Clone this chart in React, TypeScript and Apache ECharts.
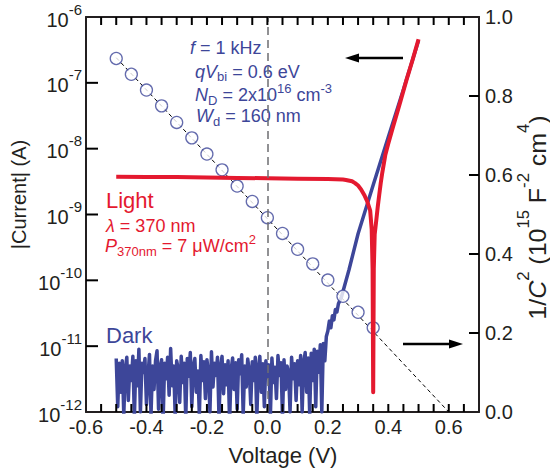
import React, { useEffect, useRef } from 'react';
import * as echarts from 'echarts';

const FONT = '"Liberation Sans", Arial, Helvetica, sans-serif';
const NARROW = '"Liberation Sans Narrow", "Liberation Sans", Arial, sans-serif';
const BLUE = '#3d4699';
const RED = '#e4192f';
const INK = '#231f20';

// axis tick positions and labels
const xTickLabels = ['-0.6', '-0.4', '-0.2', '0.0', '0.2', '0.4', '0.6'];
const xTickValues = [-0.55, -0.5, -0.45, -0.4, -0.35, -0.3, -0.25, -0.2, -0.15, -0.1, -0.05, 0.0, 0.05, 0.1, 0.15, 0.2, 0.25, 0.3, 0.35, 0.4, 0.45, 0.5, 0.55, 0.6, 0.65];
const yLogTickValues = [1e-11, 1e-10, 1e-9, 1e-8, 1e-7];
const yRightTickValues = [0.2, 0.4, 0.6, 0.8];

// 1/C^2 (right axis) vs voltage
const cvVoltage = [-0.5, -0.45, -0.4, -0.35, -0.3, -0.25, -0.2, -0.15, -0.1, -0.05, 0.0, 0.05, 0.1, 0.15, 0.2, 0.25, 0.3, 0.35];
const invC2 = [0.895, 0.855, 0.815, 0.775, 0.733, 0.694, 0.653, 0.613, 0.572, 0.533, 0.492, 0.452, 0.412, 0.375, 0.334, 0.293, 0.2525, 0.213];

// Mott-Schottky fit line
const fitVoltage = [-0.5, 0.6];
const fitInvC2 = [0.897, 0.0];

// Light current
const lightVoltage = [-0.5, -0.4, -0.3, -0.2, -0.1, 0.0, 0.1, 0.2, 0.25, 0.26, 0.28, 0.29, 0.3, 0.31, 0.32, 0.33, 0.34, 0.345, 0.348, 0.35, 0.352, 0.355, 0.36, 0.365, 0.37, 0.375, 0.38, 0.39, 0.4, 0.415, 0.43, 0.44, 0.46, 0.48, 0.5];
const lightCurrent = [3.75e-9, 3.72e-9, 3.7e-9, 3.65e-9, 3.6e-9, 3.55e-9, 3.5e-9, 3.45e-9, 3.4e-9, 3.35e-9, 3.2e-9, 3.0e-9, 2.75e-9, 2.4e-9, 2.0e-9, 1.6e-9, 1.15e-9, 6e-10, 1.5e-10, 2e-12, 1.5e-10, 5e-10, 8e-10, 1.3e-9, 2.0e-9, 3.0e-9, 4.3e-9, 8e-9, 1.2e-8, 2.1e-8, 3.6e-8, 5.2e-8, 1.1e-7, 2.2e-7, 4.6e-7];

// Dark current: noisy part of the sweep (pA), sweep starts at -0.5 V in 5 mV steps
const darkSweepStart = -0.5;
const darkSweepStep = 0.005;
const darkNoisePA = [
  6.5, 1.2, 5.5, 2.0, 6.0, 0.9, 4.5, 6.8, 1.5, 5.0, 3.0, 7.0, 0.8, 6.0, 2.5, 9.0, 1.0, 5.5, 4.0, 6.5,
  1.3, 3.5, 7.5, 0.9, 5.0, 2.2, 6.0, 8.5, 1.1, 4.8, 6.2, 0.7, 5.5, 3.2, 6.8, 1.8, 9.2, 2.5, 5.0, 0.9,
  6.0, 4.5, 1.4, 7.0, 2.8, 5.5, 0.8, 6.5, 3.5, 8.0, 1.2, 5.0, 6.5, 2.0, 4.2, 0.9, 7.2, 3.0, 5.8, 1.6,
  6.2, 4.0, 1.0, 8.2, 2.4, 5.5, 3.6, 6.8, 0.8, 4.8, 7.0, 1.9, 5.2, 2.6, 6.0, 0.7, 4.4, 6.6, 2.2, 5.6,
  1.1, 6.2, 3.8, 7.4, 0.9, 5.0, 2.4, 6.4, 4.2, 1.3, 5.8, 3.0, 6.8, 0.8, 4.6, 7.0, 2.0, 5.4, 1.2, 6.0,
  3.4, 5.2, 0.9, 6.6, 2.8, 4.8, 1.6, 7.2, 3.6, 5.6, 0.8, 6.2, 2.2, 5.0, 4.0, 1.0, 6.8, 3.2, 5.4, 1.5,
  6.0, 2.6, 7.2, 1.0, 5.6, 8.0, 2.0, 6.6, 0.9, 7.8, 3.0, 9.0, 1.2, 8.4, 4.0, 10.5, 1.0, 11.0, 6.0, 14.0,
];
// Dark current: rising part
const darkRiseVoltage = [0.2, 0.205, 0.21, 0.215, 0.22, 0.225, 0.23, 0.235, 0.245, 0.27, 0.3, 0.35, 0.4, 0.45, 0.5];
const darkRiseCurrent = [1.7e-11, 2.4e-11, 1.9e-11, 2.9e-11, 2.5e-11, 3.6e-11, 3.3e-11, 4.4e-11, 5.6e-11, 1.45e-10, 5.1e-10, 2.8e-9, 1.5e-8, 7.9e-8, 4.4e-7];

const pair = (xs: number[], ys: number[]) => xs.map((x, i) => [x, ys[i]]);

const GRID = { left: 86, right: 71, top: 17, bottom: 62 };

function baseGraphics(): any[] {
  const base = { fontFamily: FONT };
  const mkRich = (color: string, size: number, sub: number, subPad: number, supPad: number) => ({
    n: { ...base, fontSize: size, fill: color },
    i: { ...base, fontSize: size, fill: color, fontStyle: 'italic' },
    sub: { ...base, fontSize: sub, fill: color, padding: [subPad, 0, 0, 0] },
    sup: { ...base, fontSize: sub, fill: color, padding: [0, 0, supPad, 0] },
    L: { ...base, fontSize: 22, fill: color },
  });
  const blueRich = mkRich(BLUE, 18, 13, 10, 14);
  const redRich = mkRich(RED, 18, 13, 11, 14);

  const txt = (x: number, y: number, text: string, rich: any) => ({
    type: 'text',
    x,
    y,
    silent: true,
    style: { text, rich, align: 'left', verticalAlign: 'middle', fontFamily: FONT, fontSize: 18 },
  });

  const axisRich = {
    n: { fontFamily: FONT, fontSize: 24, fill: INK },
    i: { fontFamily: FONT, fontSize: 24, fill: INK, fontStyle: 'italic' },
    sup: { fontFamily: FONT, fontSize: 16, fill: INK, padding: [0, 0, 28, 0] },
  };
  const arrowColor = '#000';

  return [
    txt(190, 48, '{i|f}{n| = 1 kHz}', blueRich),
    txt(195, 71.5, '{i|qV}{sub|bi}{n| = 0.6 eV}', blueRich),
    txt(195, 95, '{i|N}{sub|D}{n| = 2x10}{sup|16}{n| cm}{sup|-3}', blueRich),
    txt(196, 116, '{i|W}{sub|d}{n| = 160 nm}', blueRich),
    txt(106, 200, '{L|Light}', redRich),
    txt(106, 226, '{i|λ}{n| = 370 nm}', redRich),
    txt(105, 246, '{i|P}{sub|370nm}{n| = 7 μW/cm}{sup|2}', redRich),
    txt(106, 335, '{L|Dark}', blueRich),
    {
      type: 'text',
      x: 18.5,
      y: 194.5,
      rotation: Math.PI / 2,
      silent: true,
      style: { text: '|Current| (A)', fontFamily: NARROW, fontSize: 20, fill: INK, align: 'center', verticalAlign: 'middle' },
    },
    {
      type: 'text',
      x: 537.5,
      y: 217.5,
      rotation: Math.PI / 2,
      scaleX: 1.04,
      silent: true,
      style: {
        text: '{n|1/}{i|C}{sup|2}{n| (10}{sup|15}{n| F}{sup|-2}{n| cm}{sup|4}{n|)}',
        rich: axisRich,
        fontFamily: FONT,
        fontSize: 24,
        fill: INK,
        align: 'center',
        verticalAlign: 'middle',
      },
    },
    {
      type: 'text',
      x: 283,
      y: 455.5,
      silent: true,
      style: { text: 'Voltage (V)', fontFamily: FONT, fontSize: 22, fill: INK, align: 'center', verticalAlign: 'middle' },
    },
    { type: 'line', silent: true, shape: { x1: 403, y1: 58, x2: 356, y2: 58 }, style: { stroke: arrowColor, lineWidth: 2.5 } },
    { type: 'polygon', silent: true, shape: { points: [[345, 58], [359, 53.5], [359, 62.5]] }, style: { fill: arrowColor } },
    { type: 'line', silent: true, shape: { x1: 403, y1: 344, x2: 452, y2: 344 }, style: { stroke: arrowColor, lineWidth: 2.5 } },
    { type: 'polygon', silent: true, shape: { points: [[463, 344], [449, 339.5], [449, 348.5]] }, style: { fill: arrowColor } },
  ];
}

function buildOption(ticks: any[]) {
  const darkData: number[][] = darkNoisePA.map((v, i) => [
    Math.round((darkSweepStart + i * darkSweepStep) * 1000) / 1000,
    v * 1e-12,
  ]);
  pair(darkRiseVoltage, darkRiseCurrent).forEach((p) => darkData.push(p));

  const xLabel = (v: number) => {
    const k = Math.round(v * 5);
    if (Math.abs(v * 5 - k) > 1e-6) return '';
    const s = (k / 5).toFixed(1);
    return xTickLabels.indexOf(s) >= 0 ? s : '';
  };

  const xCommon: any = {
    type: 'value',
    min: -0.6,
    max: 0.7,
    interval: 0.1,
    axisLine: { show: true, onZero: false, lineStyle: { color: INK, width: 2 } },
    axisTick: { show: false },
    splitLine: { show: false },
  };

  return {
    animation: false,
    backgroundColor: '#fff',
    grid: { ...GRID },
    xAxis: [
      {
        ...xCommon,
        position: 'bottom',
        axisLabel: {
          show: true,
          margin: 5,
          fontFamily: FONT,
          fontSize: 20,
          color: INK,
          formatter: xLabel,
        },
      },
      { ...xCommon, position: 'top', axisLabel: { show: false } },
    ],
    yAxis: [
      {
        type: 'log',
        logBase: 10,
        min: 1e-12,
        max: 1e-6,
        position: 'left',
        axisLine: { show: true, onZero: false, lineStyle: { color: INK, width: 2 } },
        axisTick: { show: false },
        splitLine: { show: false },
        axisLabel: {
          margin: 4,
          formatter: (v: number) => `{b|10}{s|${Math.round(Math.log10(v))}}`,
          rich: {
            b: { fontFamily: FONT, fontSize: 20, color: INK, padding: [5, 0, 0, 0] },
            s: { fontFamily: FONT, fontSize: 15, color: INK, padding: [0, 0, 16, 0] },
          },
        },
      },
      {
        type: 'value',
        min: 0,
        max: 1,
        interval: 0.2,
        position: 'right',
        axisLine: { show: true, onZero: false, lineStyle: { color: INK, width: 2 } },
        axisTick: { show: false },
        splitLine: { show: false },
        axisLabel: {
          margin: 6,
          fontFamily: FONT,
          fontSize: 20,
          color: INK,
          formatter: (v: number) => v.toFixed(1),
        },
      },
    ],
    series: [
      {
        name: 'fit',
        type: 'line',
        xAxisIndex: 0,
        yAxisIndex: 1,
        data: pair(fitVoltage, fitInvC2),
        showSymbol: false,
        symbol: 'none',
        lineStyle: { color: '#000', width: 1, type: [4, 3] },
        z: 1,
        silent: true,
        markLine: {
          silent: true,
          symbol: ['none', 'none'],
          label: { show: false },
          lineStyle: { color: '#6d6e71', width: 1.5, type: [8, 5] },
          data: [{ xAxis: 0 }],
        },
      },
      {
        name: 'Dark',
        type: 'line',
        xAxisIndex: 0,
        yAxisIndex: 0,
        data: darkData,
        showSymbol: false,
        symbol: 'none',
        lineStyle: { color: BLUE, width: 3.5, join: 'round' },
        z: 2,
      },
      {
        name: '1/C2',
        type: 'scatter',
        xAxisIndex: 0,
        yAxisIndex: 1,
        data: pair(cvVoltage, invC2),
        symbol: 'circle',
        symbolSize: 12,
        itemStyle: { color: '#fff', borderColor: BLUE, borderWidth: 1.3 },
        z: 3,
      },
      {
        name: 'Light',
        type: 'line',
        xAxisIndex: 0,
        yAxisIndex: 0,
        data: pair(lightVoltage, lightCurrent),
        showSymbol: false,
        symbol: 'none',
        lineStyle: { color: RED, width: 4, join: 'round' },
        z: 4,
      },
    ],
    graphic: [...baseGraphics(), ...ticks],
  };
}

function tickGraphics(chart: any): any[] {
  const out: any[] = [];
  const left = GRID.left;
  const right = 550 - GRID.right;
  const top = GRID.top;
  const bottom = 474 - GRID.bottom;
  const seg = (x1: number, y1: number, x2: number, y2: number, w: number) => ({
    type: 'line',
    silent: true,
    z: 10,
    shape: { x1, y1, x2, y2 },
    style: { stroke: '#000', lineWidth: w },
  });
  xTickValues.forEach((v) => {
    const p = chart.convertToPixel({ xAxisIndex: 0, yAxisIndex: 0 }, [v, 1e-9]);
    if (!p || !isFinite(p[0])) return;
    out.push(seg(p[0], bottom, p[0], bottom - 8, 2));
    out.push(seg(p[0], top, p[0], top + 8, 2));
  });
  yLogTickValues.forEach((v) => {
    const p = chart.convertToPixel({ xAxisIndex: 0, yAxisIndex: 0 }, [0, v]);
    if (!p || !isFinite(p[1])) return;
    out.push(seg(left, p[1], left + 12, p[1], 2));
  });
  yRightTickValues.forEach((v) => {
    const p = chart.convertToPixel({ xAxisIndex: 0, yAxisIndex: 1 }, [0, v]);
    if (!p || !isFinite(p[1])) return;
    out.push(seg(right, p[1], right - 10, p[1], 2));
  });
  return out;
}

export default function App() {
  const ref = useRef<HTMLDivElement>(null);
  useEffect(() => {
    if (!ref.current) return;
    const chart = echarts.init(ref.current, null, { renderer: 'svg' });
    chart.setOption(buildOption([]) as any);
    const ticks = tickGraphics(chart);
    chart.setOption(buildOption(ticks) as any, { notMerge: true });
    return () => chart.dispose();
  }, []);
  return (
    <div
      ref={ref}
      style={{ position: 'absolute', left: 0, top: 0, width: 550, height: 474, background: '#fff' }}
    />
  );
}
